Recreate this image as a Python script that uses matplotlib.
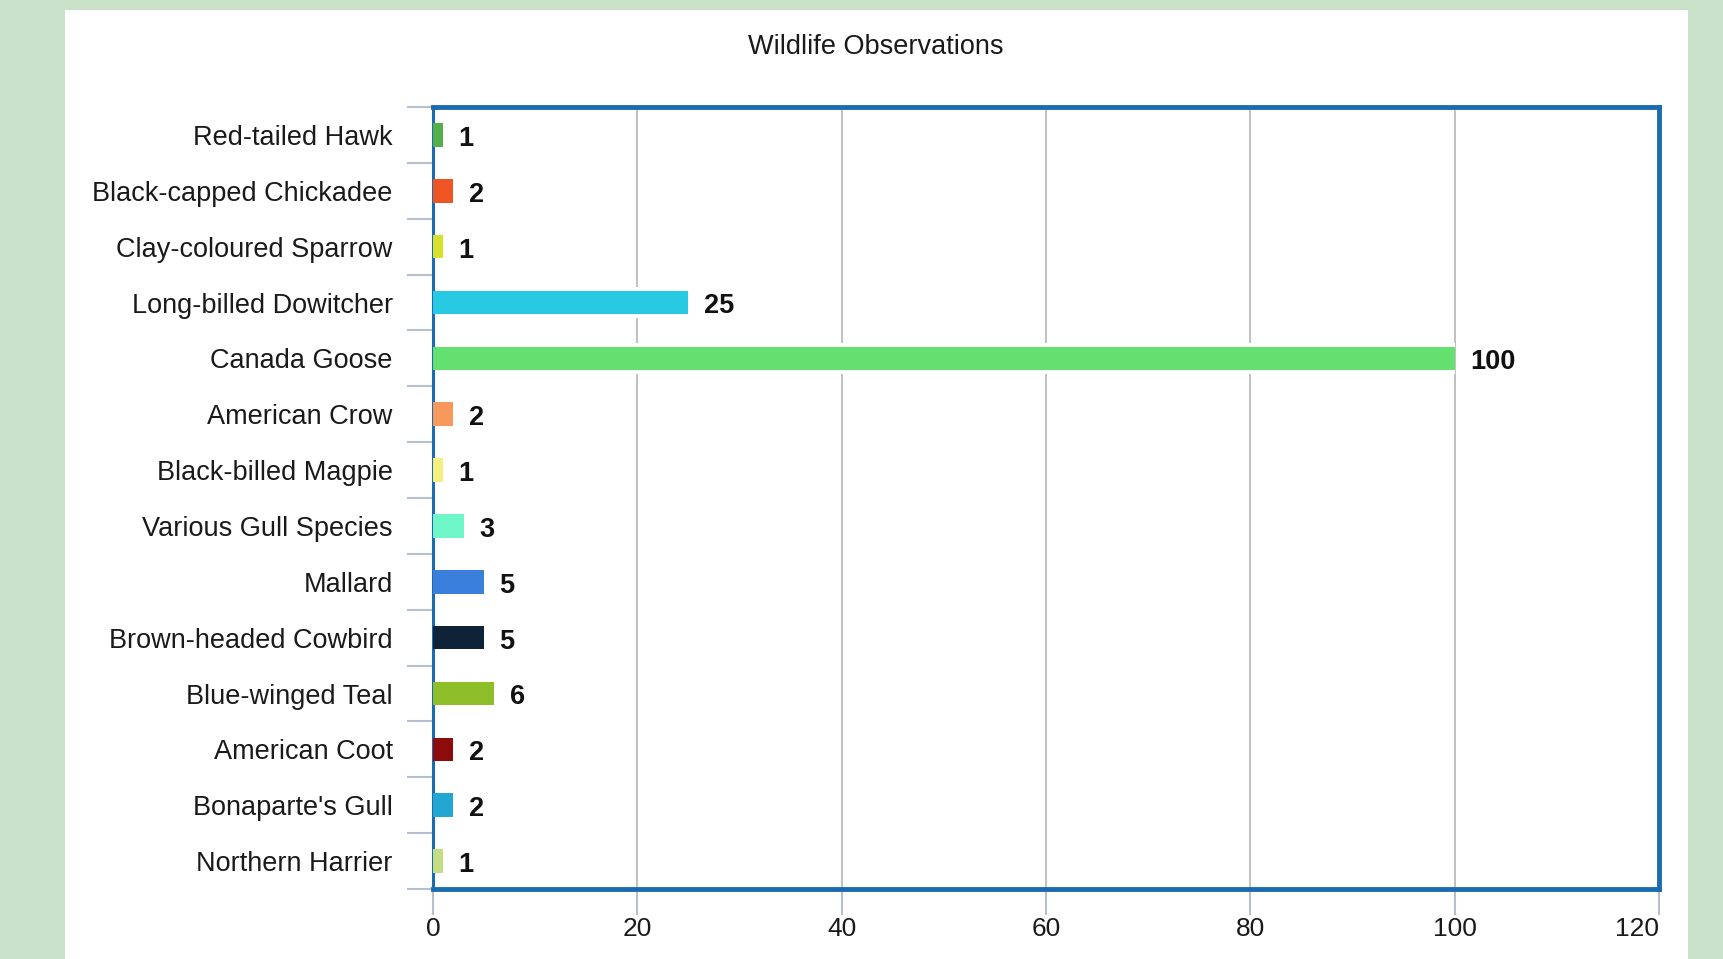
import matplotlib.pyplot as plt
from matplotlib.patches import Rectangle

plt.rcParams['font.family'] = ['Liberation Sans', 'DejaVu Sans']

# data, top to bottom as in the chart
species = ['Red-tailed Hawk', 'Black-capped Chickadee', 'Clay-coloured Sparrow',
           'Long-billed Dowitcher', 'Canada Goose', 'American Crow',
           'Black-billed Magpie', 'Various Gull Species', 'Mallard',
           'Brown-headed Cowbird', 'Blue-winged Teal', 'American Coot',
           "Bonaparte's Gull", 'Northern Harrier']
counts = [1, 2, 1, 25, 100, 2, 1, 3, 5, 5, 6, 2, 2, 1]
colors = ['#52b04a', '#ef5523', '#d8e02a', '#27c9e3', '#63e06f', '#f7995a',
          '#f5ef80', '#6ef5c8', '#3a7fdc', '#0e2338', '#8ebf2a', '#8e0b0b',
          '#22a7d2', '#c4dc82']
x_ticks = [0, 20, 40, 60, 80, 100, 120]

fig = plt.figure(figsize=(17.24, 9.59), dpi=100)
fig.patch.set_facecolor('#c8e1c8')
# white card behind the chart
fig.patches.append(Rectangle((65 / 1724, 0), (1688 - 65) / 1724, 1 - 10 / 959,
                             transform=fig.transFigure, facecolor='white',
                             edgecolor='none', zorder=-5))

ax = fig.add_axes([433 / 1724, 1 - 889 / 959, (1659 - 433) / 1724, (889 - 107) / 959])
ax.set_facecolor('white')

pos = list(range(len(species)))
# white halo behind bars so gridlines break around them
ax.barh(pos, counts, height=0.55, color='white', zorder=2)
ax.barh(pos, counts, height=0.42, color=colors, zorder=3)

for p, v in zip(pos, counts):
    ax.text(v + 1.5, p + 0.07, str(v), va='center', ha='left',
            fontsize=19.5, fontweight='bold', color='#111111', zorder=4)

ax.set_xlim(0, 120)
ax.set_ylim(len(species) - 0.5, -0.5)
ax.set_xticks(x_ticks)
ax.set_yticks(pos)
ax.set_yticklabels(species)
ax.set_yticks([i - 0.5 for i in range(len(species) + 1)], minor=True)

ax.grid(axis='x', color='#c0c0c0', linewidth=1.4, zorder=1)
ax.set_axisbelow(True)

ax.tick_params(axis='y', which='major', length=0, pad=29, labelsize=19.5, labelcolor='#1a1a1a')
ax.tick_params(axis='y', which='minor', length=19, width=1.5, color='#b8bfcc', direction='out')
ax.tick_params(axis='x', which='major', length=19, width=1.5, color='#b8bfcc',
               pad=1.5, labelsize=19, labelcolor='#1a1a1a')
# last x label sits left of its tick, inside the card
ax.get_xticklabels()[-1].set_horizontalalignment('right')

for side in ['top', 'right', 'bottom']:
    ax.spines[side].set_color('#1a6bb0')
    ax.spines[side].set_linewidth(3.5)
ax.spines['left'].set_color('#1a6bb0')
ax.spines['left'].set_linewidth(2.2)

fig.text(876 / 1724, 1 - 47 / 959, 'Wildlife Observations', ha='center', va='center',
         fontsize=19.5, color='#1a1a1a')

fig.savefig('out.png', dpi=100, facecolor=fig.get_facecolor())
